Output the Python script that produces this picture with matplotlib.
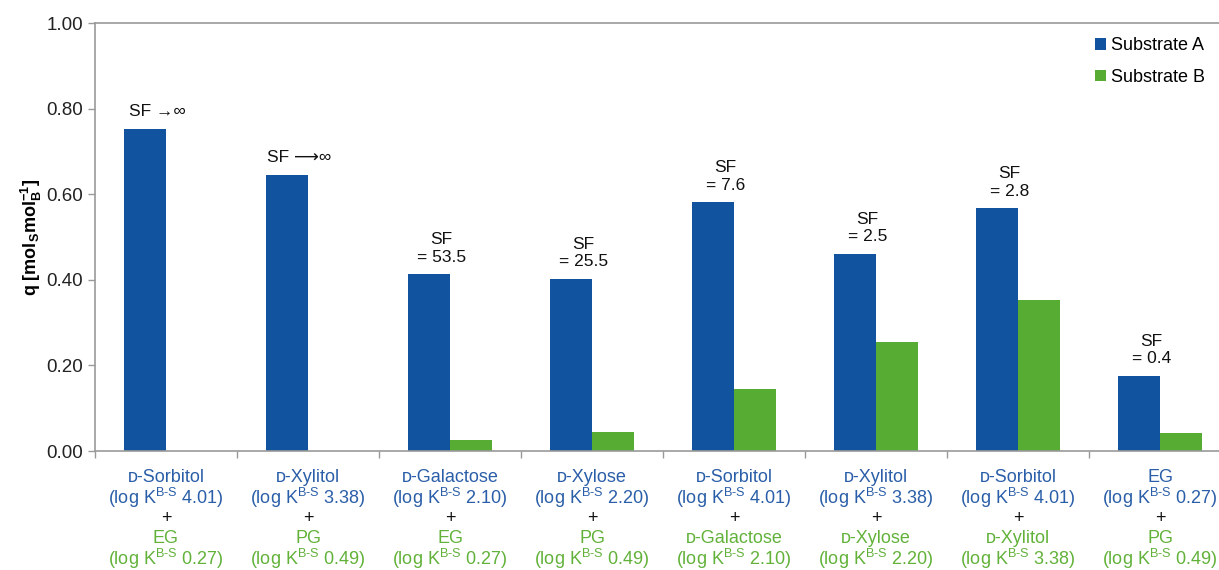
import matplotlib
matplotlib.use("Agg")
import matplotlib.pyplot as plt
import numpy as np

plt.rcParams["font.family"] = ["Liberation Sans", "DejaVu Sans"]
plt.rcParams["mathtext.fontset"] = "custom"
plt.rcParams["mathtext.rm"] = "Liberation Sans"
plt.rcParams["mathtext.it"] = "Liberation Sans:italic"
plt.rcParams["mathtext.bf"] = "Liberation Sans:bold"

# uptake of each substrate in the binary mixtures
substrate_a = [0.752, 0.645, 0.413, 0.402, 0.581, 0.461, 0.567, 0.176]
substrate_b = [0.0, 0.0, 0.025, 0.045, 0.144, 0.254, 0.352, 0.042]
sf_labels = ["SF →∞", "SF ⟶∞", "SF\n= 53.5", "SF\n= 25.5",
             "SF\n= 7.6", "SF\n= 2.5", "SF\n= 2.8", "SF\n= 0.4"]

names_a = ["ᴅ-Sorbitol", "ᴅ-Xylitol", "ᴅ-Galactose", "ᴅ-Xylose",
           "ᴅ-Sorbitol", "ᴅ-Xylitol", "ᴅ-Sorbitol", "EG"]
logk_a = ["4.01", "3.38", "2.10", "2.20", "4.01", "3.38", "4.01", "0.27"]
names_b = ["EG", "PG", "EG", "PG", "ᴅ-Galactose", "ᴅ-Xylose", "ᴅ-Xylitol", "PG"]
logk_b = ["0.27", "0.49", "0.27", "0.49", "2.10", "2.20", "3.38", "0.49"]

blue = "#12539f"
green = "#57ad33"
blue_txt = "#2a5ea8"
green_txt = "#62b23a"

fig = plt.figure(figsize=(12.19, 5.70), dpi=100)
ax = fig.add_axes([95 / 1219, 1 - 451 / 570, 1136 / 1219, 428 / 570])

x = np.arange(len(substrate_a)) + 0.5
w = 0.296
ax.bar(x - w / 2, substrate_a, w, color=blue, label="Substrate A")
ax.bar(x + w / 2, substrate_b, w, color=green, label="Substrate B")

for xi, val, lab in zip(x, substrate_a, sf_labels):
    ax.annotate(lab, (xi - 0.06, val), xytext=(0, 7), textcoords="offset points",
                ha="center", va="bottom", fontsize=12.5, linespacing=1.2, color="#111111")

ax.set_xlim(0, 8)
ax.set_ylim(0, 1.0)
ax.set_yticks(np.arange(0, 1.01, 0.2))
ax.set_yticklabels([f"{v:.2f}" for v in np.arange(0, 1.01, 0.2)], fontsize=13.5, color="#222222")
ax.set_xticks(np.arange(0, 9))
ax.set_xticklabels([])
ax.tick_params(axis="both", direction="out", length=5, color="#999999", width=1)

for s in ["left", "bottom", "top", "right"]:
    ax.spines[s].set_color("#999999")
    ax.spines[s].set_linewidth(1.2)

ax.set_ylabel(r"$\mathbf{q\ [mol_{S}mol_{B}^{-1}]}$", fontsize=13, labelpad=2)

# two-line category labels: blue substrate A, "+", green substrate B
trans = ax.get_xaxis_transform()
for xi, na, ka, nb, kb in zip(x, names_a, logk_a, names_b, logk_b):
    rows = [(na, blue_txt, 19), (f"(log K$^{{\\mathregular{{B‐S}}}}$ {ka})", blue_txt, 33.5),
            ("+", "#111111", 48.5), (nb, green_txt, 63),
            (f"(log K$^{{\\mathregular{{B‐S}}}}$ {kb})", green_txt, 77.5)]
    for txt, col, off in rows:
        ax.annotate(txt, (xi, 0), xycoords=trans, xytext=(0, -off), textcoords="offset points",
                    ha="center", va="center", fontsize=13, color=col, annotation_clip=False)

ax.legend(loc="upper left", bbox_to_anchor=(1079 / 1219, 1 - 21 / 570),
          bbox_transform=fig.transFigure, frameon=False, fontsize=13,
          handlelength=0.6, handleheight=0.6, handletextpad=0.25, labelspacing=0.8)

fig.savefig("out.png", dpi=100)
